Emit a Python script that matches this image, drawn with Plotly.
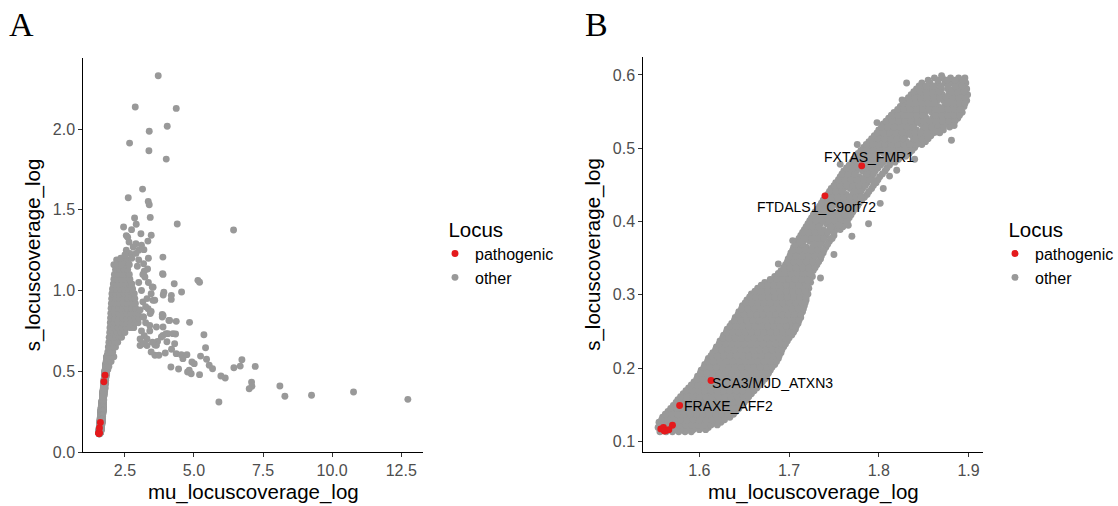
import plotly.graph_objects as go

# ---------------- data ----------------
# Panel B "other" loci, read row by row: (s_locuscoverage_log, [mu_locuscoverage_log, ...])
b_other_rows = [
    (0.113, [1.556, 1.563, 1.570, 1.577, 1.584, 1.591]),
    (0.119, [1.554, 1.561, 1.568, 1.575, 1.582, 1.589, 1.596, 1.603, 1.610]),
    (0.126, [1.555, 1.562, 1.569, 1.576, 1.583, 1.590, 1.597, 1.604, 1.611, 1.618, 1.624]),
    (0.133, [1.559, 1.566, 1.573, 1.580, 1.587, 1.594, 1.601, 1.608, 1.615, 1.622, 1.629, 1.634]),
    (0.141, [1.565, 1.572, 1.579, 1.586, 1.593, 1.600, 1.607, 1.614, 1.621, 1.628, 1.635, 1.641]),
    (0.149, [1.571, 1.578, 1.585, 1.592, 1.599, 1.606, 1.613, 1.620, 1.627, 1.634, 1.641, 1.647]),
    (0.157, [1.576, 1.583, 1.590, 1.597, 1.604, 1.611, 1.618, 1.625, 1.632, 1.639, 1.646, 1.653]),
    (0.165, [1.582, 1.589, 1.596, 1.603, 1.610, 1.617, 1.624, 1.631, 1.638, 1.645, 1.652, 1.658]),
    (0.173, [1.588, 1.595, 1.602, 1.609, 1.616, 1.623, 1.630, 1.637, 1.644, 1.651, 1.658, 1.664]),
    (0.181, [1.594, 1.601, 1.608, 1.615, 1.622, 1.629, 1.636, 1.643, 1.650, 1.657, 1.664, 1.670]),
    (0.189, [1.598, 1.605, 1.612, 1.619, 1.626, 1.633, 1.640, 1.647, 1.654, 1.661, 1.668, 1.675]),
    (0.197, [1.602, 1.609, 1.616, 1.623, 1.630, 1.637, 1.644, 1.651, 1.658, 1.665, 1.672, 1.679]),
    (0.205, [1.606, 1.613, 1.620, 1.627, 1.634, 1.641, 1.648, 1.655, 1.662, 1.669, 1.676, 1.684]),
    (0.213, [1.610, 1.617, 1.624, 1.631, 1.638, 1.645, 1.652, 1.659, 1.666, 1.673, 1.680, 1.688]),
    (0.221, [1.615, 1.622, 1.629, 1.636, 1.643, 1.650, 1.657, 1.664, 1.671, 1.678, 1.685, 1.691]),
    (0.229, [1.619, 1.626, 1.633, 1.640, 1.647, 1.654, 1.661, 1.668, 1.675, 1.682, 1.689, 1.694]),
    (0.237, [1.623, 1.630, 1.637, 1.644, 1.651, 1.658, 1.665, 1.672, 1.679, 1.686, 1.693, 1.698]),
    (0.245, [1.627, 1.634, 1.641, 1.648, 1.655, 1.662, 1.669, 1.676, 1.683, 1.690, 1.697, 1.703]),
    (0.253, [1.631, 1.638, 1.645, 1.652, 1.659, 1.666, 1.673, 1.680, 1.687, 1.694, 1.701, 1.707]),
    (0.261, [1.636, 1.643, 1.650, 1.657, 1.664, 1.671, 1.678, 1.685, 1.692, 1.699, 1.705, 1.710]),
    (0.269, [1.640, 1.647, 1.654, 1.661, 1.668, 1.675, 1.682, 1.689, 1.696, 1.703, 1.709, 1.713]),
    (0.277, [1.644, 1.651, 1.658, 1.665, 1.672, 1.679, 1.686, 1.693, 1.700, 1.707, 1.715]),
    (0.285, [1.648, 1.655, 1.662, 1.669, 1.676, 1.683, 1.690, 1.697, 1.704, 1.711, 1.717]),
    (0.293, [1.653, 1.660, 1.667, 1.674, 1.681, 1.688, 1.695, 1.702, 1.709, 1.716, 1.719]),
    (0.301, [1.658, 1.665, 1.672, 1.679, 1.686, 1.693, 1.700, 1.707, 1.714, 1.721]),
    (0.309, [1.665, 1.672, 1.679, 1.686, 1.693, 1.700, 1.707, 1.714, 1.722]),
    (0.317, [1.673, 1.680, 1.687, 1.694, 1.701, 1.708, 1.715, 1.724]),
    (0.325, [1.684, 1.691, 1.698, 1.705, 1.712, 1.719, 1.726]),
    (0.333, [1.691, 1.698, 1.705, 1.712, 1.719, 1.727]),
    (0.341, [1.696, 1.703, 1.710, 1.717, 1.724, 1.731]),
    (0.349, [1.699, 1.706, 1.713, 1.720, 1.727, 1.735]),
    (0.357, [1.702, 1.709, 1.716, 1.723, 1.730, 1.738]),
    (0.365, [1.705, 1.712, 1.719, 1.726, 1.733, 1.741]),
    (0.373, [1.709, 1.716, 1.723, 1.730, 1.737, 1.745]),
    (0.381, [1.713, 1.720, 1.727, 1.734, 1.741, 1.750]),
    (0.389, [1.717, 1.724, 1.731, 1.738, 1.745, 1.752, 1.757]),
    (0.397, [1.721, 1.728, 1.735, 1.742, 1.749, 1.756, 1.763]),
    (0.405, [1.725, 1.732, 1.739, 1.746, 1.753, 1.760, 1.767]),
    (0.413, [1.729, 1.736, 1.743, 1.750, 1.757, 1.764, 1.771]),
    (0.421, [1.734, 1.741, 1.748, 1.755, 1.762, 1.769, 1.776]),
    (0.429, [1.738, 1.745, 1.752, 1.759, 1.766, 1.773, 1.781]),
    (0.437, [1.743, 1.750, 1.757, 1.764, 1.771, 1.778, 1.787]),
    (0.445, [1.747, 1.754, 1.761, 1.768, 1.775, 1.782, 1.792]),
    (0.453, [1.752, 1.759, 1.766, 1.773, 1.780, 1.787, 1.797]),
    (0.461, [1.757, 1.764, 1.771, 1.778, 1.785, 1.792, 1.801]),
    (0.469, [1.761, 1.768, 1.775, 1.782, 1.789, 1.796, 1.807]),
    (0.477, [1.767, 1.774, 1.781, 1.788, 1.795, 1.802, 1.812]),
    (0.485, [1.772, 1.779, 1.786, 1.793, 1.800, 1.807, 1.814, 1.822]),
    (0.493, [1.777, 1.784, 1.791, 1.798, 1.805, 1.812, 1.819, 1.826, 1.834]),
    (0.501, [1.783, 1.790, 1.797, 1.804, 1.811, 1.818, 1.825, 1.832, 1.840]),
    (0.509, [1.789, 1.796, 1.803, 1.810, 1.817, 1.824, 1.831, 1.838, 1.845, 1.852]),
    (0.517, [1.795, 1.802, 1.809, 1.816, 1.823, 1.830, 1.837, 1.844, 1.851, 1.858]),
    (0.525, [1.800, 1.807, 1.814, 1.821, 1.828, 1.835, 1.842, 1.849, 1.856, 1.863, 1.872]),
    (0.533, [1.805, 1.812, 1.819, 1.826, 1.833, 1.840, 1.847, 1.854, 1.861, 1.868, 1.875, 1.882]),
    (0.541, [1.811, 1.818, 1.825, 1.832, 1.839, 1.846, 1.853, 1.860, 1.867, 1.874, 1.881, 1.888]),
    (0.549, [1.817, 1.824, 1.831, 1.838, 1.845, 1.852, 1.859, 1.866, 1.873, 1.880, 1.887, 1.893]),
    (0.557, [1.824, 1.831, 1.838, 1.845, 1.852, 1.859, 1.866, 1.873, 1.880, 1.887, 1.895]),
    (0.565, [1.830, 1.837, 1.844, 1.851, 1.858, 1.865, 1.872, 1.879, 1.886, 1.893, 1.898]),
    (0.573, [1.836, 1.843, 1.850, 1.857, 1.864, 1.871, 1.878, 1.885, 1.892, 1.899]),
    (0.581, [1.842, 1.849, 1.856, 1.863, 1.870, 1.877, 1.884, 1.891, 1.898]),
    (0.589, [1.848, 1.857, 1.866, 1.874, 1.882, 1.890, 1.897]),
    (0.596, [1.862, 1.871, 1.880, 1.889, 1.896]),
]
# Panel B: further points read in between the rows above
b_other_rows_mid = [
    (0.116, [1.558, 1.565, 1.572, 1.579, 1.586, 1.593, 1.600, 1.607]),
    (0.1225, [1.557, 1.564, 1.571, 1.578, 1.585, 1.592, 1.599, 1.606, 1.613, 1.620]),
    (0.1295, [1.558, 1.565, 1.572, 1.579, 1.586, 1.593, 1.600, 1.607, 1.614, 1.621, 1.628]),
    (0.137, [1.562, 1.569, 1.576, 1.583, 1.590, 1.597, 1.604, 1.611, 1.618, 1.625, 1.632, 1.638]),
    (0.145, [1.568, 1.575, 1.582, 1.589, 1.596, 1.603, 1.610, 1.617, 1.624, 1.631, 1.638, 1.644]),
    (0.153, [1.574, 1.581, 1.588, 1.595, 1.602, 1.609, 1.616, 1.623, 1.630, 1.637, 1.644, 1.650]),
    (0.161, [1.579, 1.586, 1.593, 1.600, 1.607, 1.614, 1.621, 1.628, 1.635, 1.642, 1.649, 1.655]),
    (0.169, [1.585, 1.592, 1.599, 1.606, 1.613, 1.620, 1.627, 1.634, 1.641, 1.648, 1.655, 1.661]),
    (0.177, [1.591, 1.598, 1.605, 1.612, 1.619, 1.626, 1.633, 1.640, 1.647, 1.654, 1.661, 1.667]),
    (0.185, [1.597, 1.604, 1.611, 1.618, 1.625, 1.632, 1.639, 1.646, 1.653, 1.660, 1.667, 1.673]),
    (0.193, [1.601, 1.608, 1.615, 1.622, 1.629, 1.636, 1.643, 1.650, 1.657, 1.664, 1.671, 1.677]),
    (0.201, [1.605, 1.612, 1.619, 1.626, 1.633, 1.640, 1.647, 1.654, 1.661, 1.668, 1.675, 1.681]),
    (0.209, [1.609, 1.616, 1.623, 1.630, 1.637, 1.644, 1.651, 1.658, 1.665, 1.672, 1.679, 1.686]),
    (0.217, [1.613, 1.620, 1.627, 1.634, 1.641, 1.648, 1.655, 1.662, 1.669, 1.676, 1.683, 1.689]),
    (0.225, [1.618, 1.625, 1.632, 1.639, 1.646, 1.653, 1.660, 1.667, 1.674, 1.681, 1.688, 1.692]),
    (0.233, [1.622, 1.629, 1.636, 1.643, 1.650, 1.657, 1.664, 1.671, 1.678, 1.685, 1.692, 1.696]),
    (0.241, [1.626, 1.633, 1.640, 1.647, 1.654, 1.661, 1.668, 1.675, 1.682, 1.689, 1.696, 1.700]),
    (0.249, [1.630, 1.637, 1.644, 1.651, 1.658, 1.665, 1.672, 1.679, 1.686, 1.693, 1.700, 1.705]),
    (0.257, [1.634, 1.641, 1.648, 1.655, 1.662, 1.669, 1.676, 1.683, 1.690, 1.697, 1.704, 1.708]),
    (0.265, [1.639, 1.646, 1.653, 1.660, 1.667, 1.674, 1.681, 1.688, 1.695, 1.702, 1.707, 1.711]),
    (0.273, [1.643, 1.650, 1.657, 1.664, 1.671, 1.678, 1.685, 1.692, 1.699, 1.706, 1.713]),
    (0.281, [1.647, 1.654, 1.661, 1.668, 1.675, 1.682, 1.689, 1.696, 1.703, 1.710, 1.716]),
    (0.289, [1.651, 1.658, 1.665, 1.672, 1.679, 1.686, 1.693, 1.700, 1.707, 1.714, 1.718]),
    (0.297, [1.656, 1.663, 1.670, 1.677, 1.684, 1.691, 1.698, 1.705, 1.712, 1.719]),
    (0.305, [1.662, 1.669, 1.676, 1.683, 1.690, 1.697, 1.704, 1.711, 1.718]),
    (0.313, [1.669, 1.676, 1.683, 1.690, 1.697, 1.704, 1.711, 1.719]),
    (0.321, [1.679, 1.686, 1.693, 1.700, 1.707, 1.714, 1.722]),
    (0.329, [1.688, 1.695, 1.702, 1.709, 1.716, 1.723]),
    (0.337, [1.694, 1.701, 1.708, 1.715, 1.722, 1.729]),
    (0.345, [1.698, 1.705, 1.712, 1.719, 1.726, 1.733]),
    (0.353, [1.701, 1.708, 1.715, 1.722, 1.729, 1.736]),
    (0.361, [1.704, 1.711, 1.718, 1.725, 1.732, 1.739]),
    (0.369, [1.707, 1.714, 1.728, 1.735, 1.743]),
    (0.377, [1.711, 1.718, 1.725, 1.732, 1.739, 1.747]),
    (0.385, [1.715, 1.722, 1.729, 1.736, 1.743, 1.750]),
    (0.393, [1.719, 1.726, 1.733, 1.747, 1.754, 1.760]),
    (0.401, [1.723, 1.730, 1.737, 1.744, 1.751, 1.758, 1.765]),
    (0.409, [1.727, 1.734, 1.741, 1.748, 1.755, 1.762, 1.769]),
    (0.417, [1.732, 1.739, 1.746, 1.760, 1.767, 1.774]),
    (0.425, [1.736, 1.743, 1.750, 1.757, 1.764, 1.771, 1.778]),
    (0.433, [1.740, 1.747, 1.754, 1.761, 1.768, 1.775, 1.784]),
    (0.441, [1.745, 1.752, 1.759, 1.773, 1.780, 1.789]),
    (0.449, [1.750, 1.757, 1.764, 1.771, 1.778, 1.785, 1.794]),
    (0.457, [1.755, 1.762, 1.769, 1.776, 1.783, 1.790, 1.799]),
    (0.465, [1.759, 1.766, 1.773, 1.787, 1.794, 1.804]),
    (0.473, [1.764, 1.771, 1.778, 1.785, 1.792, 1.799, 1.809]),
    (0.481, [1.770, 1.777, 1.784, 1.791, 1.798, 1.805, 1.812, 1.818]),
    (0.489, [1.775, 1.782, 1.789, 1.796, 1.810, 1.817, 1.824, 1.830]),
    (0.497, [1.780, 1.787, 1.794, 1.801, 1.808, 1.815, 1.822, 1.829, 1.837]),
    (0.505, [1.786, 1.793, 1.800, 1.807, 1.814, 1.821, 1.828, 1.835, 1.842, 1.848]),
    (0.513, [1.792, 1.799, 1.806, 1.813, 1.820, 1.827, 1.841, 1.848, 1.855]),
    (0.521, [1.798, 1.805, 1.812, 1.819, 1.826, 1.833, 1.840, 1.847, 1.854, 1.861, 1.868]),
    (0.529, [1.803, 1.810, 1.817, 1.824, 1.831, 1.838, 1.852, 1.859, 1.866, 1.872, 1.879]),
    (0.537, [1.808, 1.815, 1.822, 1.829, 1.836, 1.843, 1.850, 1.857, 1.864, 1.871, 1.878, 1.885]),
    (0.545, [1.814, 1.821, 1.828, 1.835, 1.842, 1.849, 1.863, 1.870, 1.877, 1.884, 1.890]),
    (0.553, [1.821, 1.828, 1.835, 1.842, 1.849, 1.856, 1.863, 1.870, 1.877, 1.884, 1.891]),
    (0.561, [1.827, 1.834, 1.841, 1.848, 1.855, 1.862, 1.876, 1.883, 1.890, 1.896]),
    (0.569, [1.833, 1.840, 1.847, 1.854, 1.861, 1.868, 1.875, 1.882, 1.889, 1.896]),
    (0.577, [1.839, 1.846, 1.853, 1.860, 1.867, 1.881, 1.888, 1.895]),
    (0.585, [1.845, 1.853, 1.861, 1.869, 1.877, 1.885, 1.893]),
    (0.593, [1.855, 1.866, 1.876, 1.885, 1.894]),
]
# isolated "other" points around the band of panel B
b_sparse_x = [1.7205, 1.748, 1.7806, 1.831, 1.870, 1.881, 1.735, 1.766, 1.795, 1.805,
              1.840, 1.750, 1.704, 1.712, 1.776, 1.798, 1.812, 1.757, 1.864, 1.884,
              1.8016, 1.7886, 1.866, 1.820, 1.770, 1.7555, 1.688, 1.826]
b_sparse_y = [0.3198, 0.377, 0.4338, 0.589, 0.599, 0.511, 0.323, 0.395, 0.455, 0.445,
              0.485, 0.355, 0.374, 0.372, 0.505, 0.535, 0.462, 0.478, 0.522, 0.531,
              0.4248, 0.397, 0.523, 0.470, 0.380, 0.395, 0.342, 0.566]

# Panel A: extra dense rows above/right of the panel-B region
a_dense_rows = [
    (0.53, [1.92]),
    (0.56, [1.93, 2.00]),
    (0.59, [1.95, 2.03, 2.10]),
    (0.62, [1.88, 1.98, 2.06]),
    (0.65, [1.90, 2.00, 2.10, 2.16]),
    (0.68, [1.92, 2.04, 2.14, 2.24]),
    (0.71, [1.93, 2.06, 2.18, 2.30, 2.38]),
    (0.74, [1.95, 2.08, 2.22, 2.36, 2.50]),
    (0.77, [1.96, 2.10, 2.25, 2.40, 2.55, 2.70, 2.82]),
    (0.80, [1.97, 2.11, 2.26, 2.41, 2.56, 2.71, 2.86, 2.98]),
    (0.83, [1.98, 2.12, 2.27, 2.42, 2.57, 2.72, 2.87, 3.00]),
    (0.86, [1.99, 2.13, 2.28, 2.43, 2.58, 2.73, 2.88, 2.98]),
    (0.89, [2.00, 2.14, 2.29, 2.44, 2.59, 2.74, 2.89]),
    (0.92, [2.01, 2.15, 2.30, 2.45, 2.60, 2.75, 2.88]),
    (0.95, [2.02, 2.16, 2.31, 2.46, 2.61, 2.76, 2.86]),
    (0.98, [2.03, 2.17, 2.32, 2.47, 2.62, 2.77, 2.84]),
    (1.01, [2.05, 2.19, 2.34, 2.49, 2.64, 2.78]),
    (1.04, [2.08, 2.22, 2.37, 2.52, 2.66, 2.75]),
    (1.07, [2.10, 2.24, 2.39, 2.54, 2.68]),
    (1.10, [2.12, 2.27, 2.42, 2.56, 2.66]),
    (1.13, [2.16, 2.32, 2.47, 2.60]),
    (1.16, [2.10, 2.22, 2.38, 2.52, 2.66]),
    (1.19, [2.20, 2.33, 2.48, 2.62]),
]
# Panel A: scattered "other" points
a_sparse_x = [3.706, 2.874, 4.358, 4.032, 3.381, 2.669, 3.369, 3.996, 3.139, 2.621,
              3.344, 3.381, 3.417, 2.850, 4.394, 6.432, 3.453, 2.910, 2.452, 2.741,
              3.079, 3.332, 3.188, 3.875, 2.898, 3.863, 3.176, 3.320, 3.224, 4.285,
              5.142, 5.202, 3.489, 4.551, 3.887, 4.177, 3.513, 4.840, 4.358, 4.092,
              3.851, 3.851, 3.176, 3.417, 5.359, 5.419, 4.334, 4.056, 3.875, 3.682,
              4.020, 3.586, 4.189, 3.960, 3.586, 3.730, 4.358, 4.539, 4.744, 4.599,
              4.925, 5.009, 5.238, 5.455, 5.552, 5.672, 4.165, 4.442, 4.768, 4.828,
              4.900, 5.202, 5.974, 6.131, 6.444, 6.674, 6.734, 7.217, 7.084, 7.096,
              6.999, 8.109, 8.290, 9.255, 10.775, 12.741, 5.902,
              3.16, 3.64, 3.82, 3.99, 4.24, 4.30, 3.40, 3.64, 3.88, 3.16,
              3.88, 4.12, 3.34, 3.58, 3.52, 3.88, 3.91, 4.18,
              3.05, 3.10, 3.20, 3.30, 3.25, 3.05, 3.15, 3.30, 3.10, 3.00,
              3.20, 3.35, 3.00, 2.95, 3.10, 3.40, 3.50, 3.45, 3.30, 3.05, 3.20,
              2.55, 2.60, 2.65, 2.80, 2.68, 2.75, 2.90, 3.00, 2.55, 2.40, 2.35, 2.50,
              3.15, 3.35, 3.45, 3.25, 3.45]
a_sparse_y = [2.330, 2.137, 2.128, 2.017, 1.986, 1.913, 1.866, 1.814, 1.628, 1.575,
              1.552, 1.531, 1.453, 1.449, 1.412, 1.375, 1.342, 1.410, 1.393, 1.377,
              1.352, 1.306, 1.253, 1.207, 1.290, 1.104, 1.166, 1.133, 1.084, 1.042,
              1.063, 1.051, 1.022, 0.991, 0.972, 0.945, 0.939, 0.803, 0.809, 0.815,
              0.852, 0.836, 0.836, 0.857, 0.726, 0.646, 0.731, 0.733, 0.722, 0.685,
              0.683, 0.663, 0.636, 0.613, 0.599, 0.599, 0.609, 0.603, 0.603, 0.578,
              0.557, 0.547, 0.594, 0.574, 0.537, 0.516, 0.526, 0.514, 0.495, 0.506,
              0.485, 0.479, 0.471, 0.458, 0.522, 0.532, 0.572, 0.530, 0.433, 0.407,
              0.392, 0.409, 0.345, 0.351, 0.372, 0.326, 0.310,
              0.671, 0.661, 0.712, 0.733, 0.733, 0.671, 0.784, 0.774, 0.774, 0.836,
              0.846, 0.815, 0.887, 0.940, 1.020, 1.100, 0.990, 0.970,
              0.700, 0.750, 0.720, 0.700, 0.800, 0.880, 0.930, 0.950, 1.000, 1.050,
              1.120, 1.200, 1.250, 1.150, 1.280, 0.750, 0.680, 0.620, 0.660, 0.660, 0.670,
              1.340, 1.330, 1.300, 1.270, 1.230, 1.200, 1.230, 1.190, 1.250, 1.170, 1.200, 1.220,
              1.100, 1.050, 0.980, 0.900, 0.870]

# Pathogenic loci (shared by both panels)
path_x = [1.557, 1.560, 1.563, 1.566, 1.570, 1.561, 1.578, 1.613, 1.740, 1.781]
path_y = [0.117, 0.119, 0.115, 0.116, 0.122, 0.114, 0.149, 0.183, 0.435, 0.476]

# Labels in panel B
label_text = ["FXTAS_FMR1", "FTDALS1_C9orf72", "SCA3/MJD_ATXN3", "FRAXE_AFF2"]
label_x = [1.7895, 1.7306, 1.681, 1.633]
label_y = [0.4878, 0.4194, 0.180, 0.148]

a_xticks = [2.5, 5.0, 7.5, 10.0, 12.5]
a_xticklabels = ["2.5", "5.0", "7.5", "10.0", "12.5"]
a_yticks = [0.0, 0.5, 1.0, 1.5, 2.0]
a_yticklabels = ["0.0", "0.5", "1.0", "1.5", "2.0"]
b_xticks = [1.6, 1.7, 1.8, 1.9]
b_xticklabels = ["1.6", "1.7", "1.8", "1.9"]
b_yticks = [0.1, 0.2, 0.3, 0.4, 0.5, 0.6]
b_yticklabels = ["0.1", "0.2", "0.3", "0.4", "0.5", "0.6"]


def expand(rows):
    xs, ys = [], []
    for y, xlist in rows:
        for x in xlist:
            xs.append(x)
            ys.append(y)
    return xs, ys


bx, by = expand(b_other_rows + b_other_rows_mid)
bx += b_sparse_x
by += b_sparse_y
ax_, ay_ = expand(a_dense_rows)
a_other_x = bx + ax_ + a_sparse_x
a_other_y = by + ay_ + a_sparse_y

GRAY = "#999999"
RED = "#E41A1C"
MSIZE = 6.9
FONT = "Liberation Sans, Arial, Helvetica, sans-serif"

fig = go.Figure()
# Panel A
fig.add_trace(go.Scatter(x=a_other_x, y=a_other_y, mode="markers", name="other",
                         marker=dict(color=GRAY, size=MSIZE, line=dict(width=0)),
                         xaxis="x", yaxis="y", legend="legend", legendrank=2))
fig.add_trace(go.Scatter(x=path_x, y=path_y, mode="markers", name="pathogenic",
                         marker=dict(color=RED, size=MSIZE, line=dict(width=0)),
                         xaxis="x", yaxis="y", legend="legend", legendrank=1))
# Panel B
fig.add_trace(go.Scatter(x=bx, y=by, mode="markers", name="other",
                         marker=dict(color=GRAY, size=MSIZE, line=dict(width=0)),
                         xaxis="x2", yaxis="y2", legend="legend2", legendrank=2))
fig.add_trace(go.Scatter(x=path_x, y=path_y, mode="markers", name="pathogenic",
                         marker=dict(color=RED, size=MSIZE, line=dict(width=0)),
                         xaxis="x2", yaxis="y2", legend="legend2", legendrank=1))

axis_common = dict(showline=True, linecolor="black", linewidth=1.1, ticks="outside",
                   ticklen=4, tickwidth=1.1, tickcolor="#333333", showgrid=False,
                   zeroline=False, automargin=False,
                   tickfont=dict(family=FONT, size=16, color="#4D4D4D"),
                   title_font=dict(family=FONT, size=20.5, color="black"))

W, H = 1118, 506
legend_common = dict(xanchor="left", y=1 - 210 / H, yanchor="top",
                     title=dict(text="&nbsp;&nbsp;Locus",
                                font=dict(family=FONT, size=20.5, color="black")),
                     font=dict(family=FONT, size=16, color="black"),
                     itemsizing="trace", bgcolor="rgba(0,0,0,0)", tracegroupgap=0)
fig.update_layout(
    width=W, height=H, margin=dict(l=0, r=0, t=0, b=0, autoexpand=False),
    plot_bgcolor="white", paper_bgcolor="white",
    font=dict(family=FONT, color="black"),
    xaxis=dict(domain=[83.3 / W, 423.3 / W], anchor="y", range=[0.994, 13.30],
               tickvals=a_xticks, ticktext=a_xticklabels,
               title=dict(text="mu_locuscoverage_log", standoff=6), **axis_common),
    yaxis=dict(domain=[1 - 452 / H, 1 - 58 / H], anchor="x", range=[0.0, 2.44],
               tickvals=a_yticks, ticktext=a_yticklabels,
               title=dict(text="s_locuscoverage_log", standoff=6), **axis_common),
    xaxis2=dict(domain=[643.3 / W, 983.3 / W], anchor="y2", range=[1.5375, 1.9165],
                tickvals=b_xticks, ticktext=b_xticklabels,
                title=dict(text="mu_locuscoverage_log", standoff=6), **axis_common),
    yaxis2=dict(domain=[1 - 452 / H, 1 - 57 / H], anchor="x2", range=[0.0855, 0.6245],
                tickvals=b_yticks, ticktext=b_yticklabels,
                title=dict(text="s_locuscoverage_log", standoff=6), **axis_common),
    legend=dict(x=435 / W, **legend_common),
    legend2=dict(x=995 / W, **legend_common),
    showlegend=True,
)

annotations = [
    dict(text="A", x=7 / W, y=1 - 4 / H, xref="paper", yref="paper", xanchor="left",
         yanchor="top", showarrow=False,
         font=dict(family="Liberation Serif, Times New Roman, serif", size=34, color="black")),
    dict(text="B", x=583 / W, y=1 - 4 / H, xref="paper", yref="paper", xanchor="left",
         yanchor="top", showarrow=False,
         font=dict(family="Liberation Serif, Times New Roman, serif", size=34, color="black")),
]
for t, lx, ly in zip(label_text, label_x, label_y):
    annotations.append(dict(text=t, x=lx, y=ly, xref="x2", yref="y2", showarrow=False,
                            xanchor="center", yanchor="middle",
                            font=dict(family=FONT, size=14, color="black")))
fig.update_layout(annotations=annotations)

fig.write_html("out.html")
